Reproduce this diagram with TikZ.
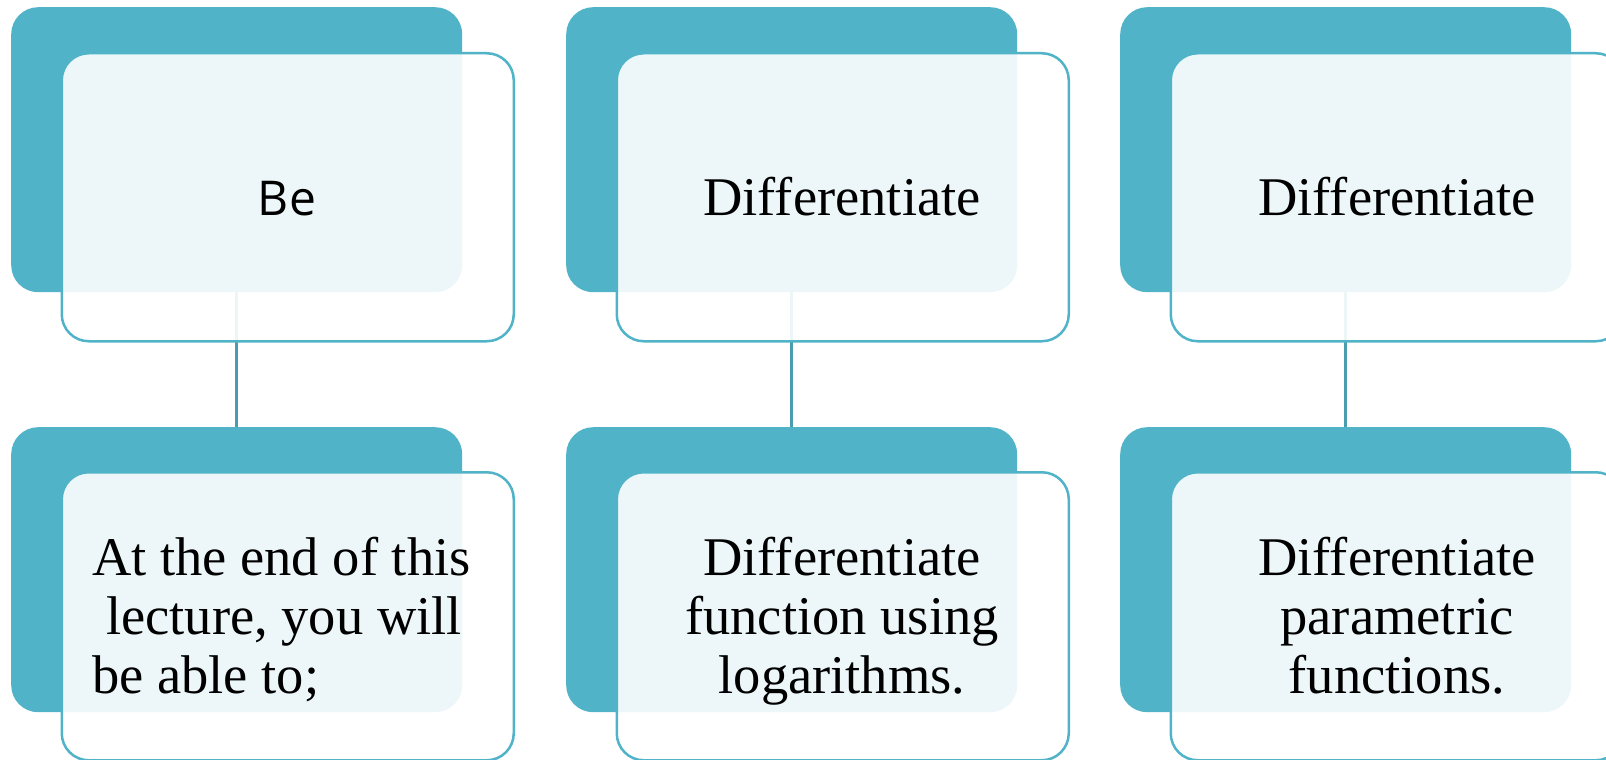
\documentclass[tikz,border=0pt]{standalone}
\usepackage{fontspec}
\setmainfont{Liberation Serif}
\newfontfamily\besans{Open Sans}
\definecolor{tealbox}{HTML}{51B3C7}
\definecolor{tealline}{HTML}{4A9DAE}
\newcommand\clines[1]{\vtop{\baselineskip=59pt\lineskiplimit=-200pt\lineskip=0pt\halign{\hfil##\hfil\cr#1\crcr}}}
\newcommand\llines[1]{\vtop{\baselineskip=59pt\lineskiplimit=-200pt\lineskip=0pt\halign{##\hfil\cr#1\crcr}}}
\tikzset{
  backbox/.style={fill=tealbox, rounded corners=27pt, inner sep=0pt,
    minimum width=451pt, minimum height=285pt, anchor=north west},
  frontbox/.style={draw=tealbox, line width=2.5pt, fill=white, fill opacity=0.9,
    rounded corners=27pt, inner sep=0pt, minimum width=452pt, minimum height=288pt, anchor=north west},
  conn/.style={draw=tealline, line width=2.6pt},
  txt/.style={inner sep=0pt, font=\fontsize{54.5}{59}\selectfont},
  sanstxt/.style={inner sep=0pt, font=\besans\fontsize{48}{58}\selectfont},
}
\begin{document}
\begin{tikzpicture}[x=1pt,y=-1pt]
\useasboundingbox (0,0) rectangle (1606,760);
\foreach \c/\dx in {1/0,2/555,3/1109} {
  \node[backbox] (bt\c) at (11+\dx,7) {};
  \node[backbox] (bb\c) at (11+\dx,427) {};
}
\foreach \c in {1,2,3} {
  \draw[conn] (bt\c.south) -- (bb\c.north);
}
\foreach \c/\dx in {1/0,2/555,3/1109} {
  \node[frontbox] (ft\c) at (60.5+\dx,52) {};
  \node[frontbox] (fb\c) at (60.5+\dx,471) {};
}
\node[sanstxt, anchor=base] (t1) at (287,215) {Be};
\node[txt, anchor=base] (t2) at (842,215) {Differentiate};
\node[txt, anchor=base] (t3) at (1397,215) {Differentiate};
\node[txt, anchor=base west] (t4) at (92,575) {\llines{At the end of this\cr\hspace*{14pt}lecture, you will\cr be able to;}};
\node[txt, anchor=base] (t5) at (842,575) {\clines{Differentiate\cr function using\cr logarithms.}};
\node[txt, anchor=base] (t6) at (1397,575) {\clines{Differentiate\cr parametric\cr functions.}};
\end{tikzpicture}
\end{document}
